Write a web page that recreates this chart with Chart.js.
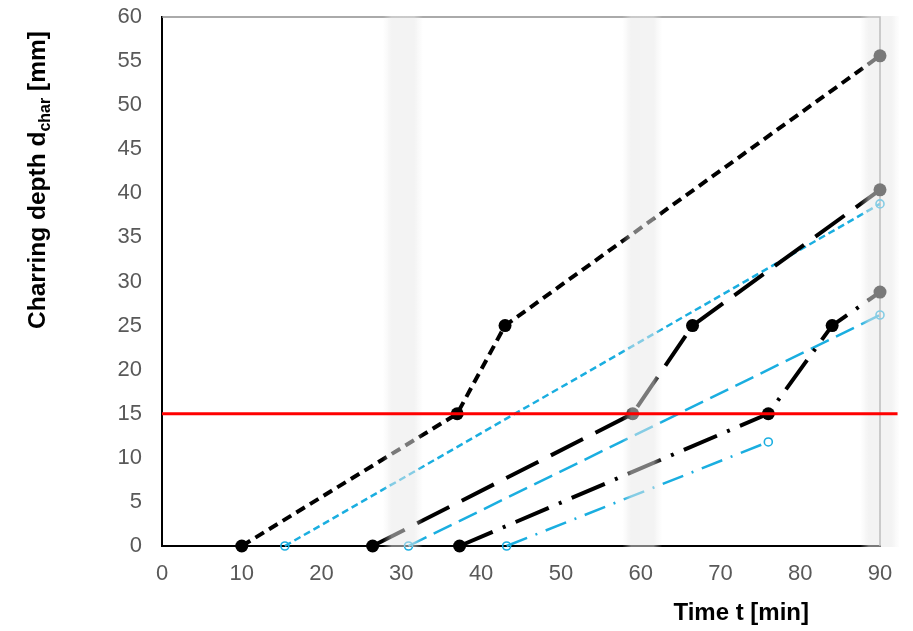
<!DOCTYPE html>
<html><head><meta charset="utf-8">
<script src="https://cdn.jsdelivr.net/npm/chart.js@4.4.1/dist/chart.umd.min.js"></script>
<style>html,body{margin:0;padding:0;background:#fff}</style>
</head><body>
<canvas id="c" width="913" height="631"></canvas>
<script>
// ---- data ----
const xTicks = [0, 10, 20, 30, 40, 50, 60, 70, 80, 90];
const yTicks = [0, 5, 10, 15, 20, 25, 30, 35, 40, 45, 50, 55, 60];

const s1X = [10, 37, 43, 90];      const s1Y = [0, 15, 25, 55.6];
const s2X = [26.4, 59, 66.5, 90];  const s2Y = [0, 15, 25, 40.4];
const s3X = [37.3, 76, 84, 90];    const s3Y = [0, 15, 25, 28.8];
const c1X = [15.4, 90];            const c1Y = [0, 38.8];
const c2X = [30.9, 90];            const c2Y = [0, 26.2];
const c3X = [43.2, 76];            const c3Y = [0, 11.8];
const refX = [0, 92.2];            const refY = [15, 15];
const bandCenters = [30.2, 60.2, 90];
const bandHalfWidth = 2.5;

const xTitle = 'Time t [min]';
const yTitleMain = 'Charring depth d';
const yTitleSub = 'char';
const yTitleEnd = ' [mm]';

const pts = (xs, ys) => xs.map((x, i) => ({x, y: ys[i]}));
const CYAN = '#1aaee0';
const FONT = "'Liberation Sans', Arial, sans-serif";

function blackSeries(xs, ys, dash) {
  return { data: pts(xs, ys), showLine: true, borderColor: '#000', borderWidth: 4,
    borderDash: dash, pointRadius: 6.5, pointBackgroundColor: '#000', pointBorderColor: '#000',
    pointBorderWidth: 0, tension: 0, clip: false };
}
function cyanSeries(xs, ys, dash) {
  return { data: pts(xs, ys), showLine: true, borderColor: CYAN, borderWidth: 2.5,
    borderDash: dash, pointRadius: 4, pointBackgroundColor: 'rgba(255,255,255,0)', pointBorderColor: CYAN,
    pointBorderWidth: 1.6, tension: 0, clip: false };
}

const datasets = [
  { data: pts(refX, refY), showLine: true, borderColor: '#ff0000', borderWidth: 3, pointRadius: 0, clip: false },
  blackSeries(s1X, s1Y, [10, 6]),
  blackSeries(s2X, s2Y, [36, 14]),
  blackSeries(s3X, s3Y, [36, 11, 3, 11]),
  cyanSeries(c1X, c1Y, [7, 4]),
  cyanSeries(c2X, c2Y, [20, 8]),
  cyanSeries(c3X, c3Y, [22, 9, 2, 9]),
];

const framePlugin = {
  id: 'frame',
  beforeDatasetsDraw(chart) {
    const {ctx, chartArea: a} = chart;
    ctx.save();
    ctx.strokeStyle = '#8f8f8f'; ctx.lineWidth = 1.5;
    ctx.beginPath();
    ctx.moveTo(a.left, a.top); ctx.lineTo(a.right, a.top); ctx.lineTo(a.right, a.bottom);
    ctx.stroke();
    ctx.restore();
  },
  beforeDatasetDraw(chart, args) {
    if (args.index !== 0) return;
    const {ctx, chartArea: a, scales: {x}} = chart;
    ctx.save();
    bandCenters.forEach(c => {
      const l = x.getPixelForValue(c - bandHalfWidth), r = x.getPixelForValue(c + bandHalfWidth);
      const g = ctx.createLinearGradient(l, 0, r, 0);
      g.addColorStop(0, 'rgba(232,232,232,0)');
      g.addColorStop(0.22, 'rgba(232,232,232,0.52)');
      g.addColorStop(0.78, 'rgba(232,232,232,0.52)');
      g.addColorStop(1, 'rgba(232,232,232,0)');
      ctx.fillStyle = g;
      ctx.fillRect(l, a.top - 1, r - l, a.bottom - a.top + 2);
    });
    ctx.restore();
  },
  afterDraw(chart) {
    const {ctx, scales: {x}} = chart;
    ctx.save();
    ctx.fillStyle = '#000';
    // x title
    ctx.font = 'bold 24px ' + FONT;
    ctx.textAlign = 'center'; ctx.textBaseline = 'alphabetic';
    ctx.fillText(xTitle, x.getPixelForValue(72.6), 620);
    // y title with subscript
    const big = 'bold 24.5px ' + FONT, small = 'bold 16px ' + FONT;
    ctx.font = big; const w1 = ctx.measureText(yTitleMain).width; const w3 = ctx.measureText(yTitleEnd).width;
    ctx.font = small; const w2 = ctx.measureText(yTitleSub).width;
    const total = w1 + w2 + w3;
    ctx.translate(45, 180);
    ctx.rotate(-Math.PI / 2);
    ctx.textAlign = 'left';
    let px = -total / 2;
    ctx.font = big; ctx.fillText(yTitleMain, px, 0); px += w1;
    ctx.font = small; ctx.fillText(yTitleSub, px, 5); px += w2;
    ctx.font = big; ctx.fillText(yTitleEnd, px, 0);
    ctx.restore();
  }
};

function zeroPad(s) { s.paddingTop = 0; s.paddingBottom = 0; s.paddingLeft = 0; s.paddingRight = 0; }

new Chart(document.getElementById('c'), {
  type: 'scatter',
  data: { datasets },
  options: {
    responsive: false, animation: false, events: [],
    layout: { padding: { top: 17, right: 33, left: 0, bottom: 0 } },
    plugins: { legend: { display: false }, tooltip: { enabled: false } },
    scales: {
      x: {
        type: 'linear', min: 0, max: 90,
        afterBuildTicks: s => { s.ticks = xTicks.map(v => ({value: v})); },
        afterFit: s => { s.height = 85; zeroPad(s); },
        grid: { display: false, drawTicks: false },
        border: { display: true, color: '#000', width: 2 },
        ticks: { autoSkip: false, maxRotation: 0, padding: 15, color: '#595959', font: { family: FONT, size: 22 } }
      },
      y: {
        type: 'linear', min: 0, max: 60,
        afterBuildTicks: s => { s.ticks = yTicks.map(v => ({value: v})); },
        afterFit: s => { s.width = 162; zeroPad(s); },
        grid: { display: false, drawTicks: false },
        border: { display: true, color: '#000', width: 2 },
        ticks: { autoSkip: false, padding: 20, color: '#595959', font: { family: FONT, size: 22 } }
      }
    }
  },
  plugins: [framePlugin]
});
</script>
</body></html>
